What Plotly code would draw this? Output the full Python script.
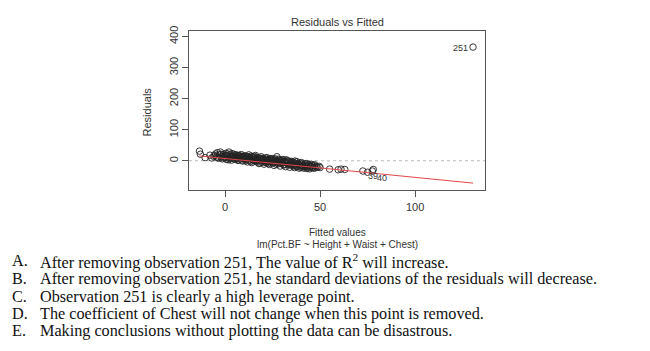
import plotly.graph_objects as go

W, H = 650, 351

# Fitted values and residuals
fitted = [-13.5, -13, -10.5, -8, -6, -5, -4.5, -4, -3.5, -3, -2.5, -2, -1.5, -1, -0.5, 0, 0.3, 0.8, 1, 1.5,
          2, 2.2, 2.6, 3, 3.4, 3.8, 4, 4.5, 5, 5.3, 5.8, 6, 6.5, 7, 7.2, 7.8, 8, 8.5, 9, 9.3,
          9.8, 10, 10.5, 11, 11.3, 11.8, 12, 12.5, 13, 13.3, 13.8, 14, 14.5, 15, 15.3, 15.8, 16, 16.5, 17, 17.3,
          17.8, 18, 18.5, 19, 19.3, 19.8, 20, 20.5, 21, 21.3, 21.8, 22, 22.5, 23, 23.3, 23.8, 24, 24.5, 25, 25.3,
          25.8, 26, 26.5, 27, 27.3, 27.8, 28, 28.5, 29, 29.3, 29.8, 30, 30.5, 31, 31.3, 31.8, 32, 32.5, 33, 33.3,
          33.8, 34, 34.5, 35, 35.3, 35.8, 36, 36.5, 37, 37.3, 37.8, 38, 38.5, 39, 39.3, 39.8, 40, 40.5, 41, 41.5,
          42, 42.5, 43, 43.5, 44, 44.5, 45, 45.5, 46, 47, 47.5, 48, 49.5, 50, 55, 59.5, 61, 63, 72.5, 75,
          77.5, 78,
          -7, -5.5, -3.8, -2.2, -0.8, 0.6, 1.2, 1.8, 2.8, 3.6, 4.2, 4.8, 5.5, 6.2, 6.8, 7.5, 8.2, 8.8, 9.5, 10.2,
          10.8, 11.5, 12.2, 12.8, 13.5, 14.2, 14.8, 15.5, 16.2, 16.8, 17.5, 18.2, 18.8, 19.5, 20.2, 20.8, 21.5, 22.2, 22.8, 23.5,
          24.2, 24.8, 25.5, 26.2, 26.8, 27.5, 28.2, 28.8, 29.5, 30.2, 30.8, 31.5, 32.2, 32.8, 33.5, 34.2, 34.8, 35.5, 36.2, 36.8,
          37.5, 38.2, 38.8, 39.5, 40.2, 40.8, 41.2, 42.2, 42.8, 43.2, 44.2, 44.8, 45.8, 46.5, 47.2, 48.5,
          130.5]
residuals = [31, 21, 10, 18, 14, 22, 12, 26, 8, 18, 28, 13, 6, 20, 15, 10, 24, 4, 16, 12,
             28, 7, 19, 13, 2, 16, 9, 21, 12, 5, 15, 8, 18, 3, 11, 14, 6, 20, 10, -1,
             13, 7, 16, 4, 9, -4, 12, 19, 2, 8, 15, -6, 5, 11, 0, 7, 17, -3, 4, 10,
             -9, 6, 1, 13, -5, 3, 8, -11, 0, 5, -7, 10, -2, 3, -12, 7, -4, 1, -8, 4,
             -15, -1, 6, -6, 13, -3, -10, 2, -17, -5, 0, -8, 4, -12, -2, -19, -6, 1, -10, -4,
             -14, -21, -7, -2, -12, -17, -5, -22, -9, -14, -3, -19, -11, -24, -7, -15, -21, -10, -17, -24,
             -13, -19, -9, -22, -15, -26, -18, -12, -21, -16, -23, -19, -18, -22, -27, -29, -27, -28, -33, -37,
             -33, -28,
             9, 17, 11, 21, 9, 17, 22, 3, 10, 23, 14, 6, 19, 11, 1, 17, 13, 2, 15, 11,
             0, 14, 5, 10, -2, 12, 3, 14, 0, 9, 2, -7, 8, 0, 5, -4, 9, 1, -9, 4,
             -2, 7, -5, 2, -11, -1, 5, -7, 1, -3, -14, -5, 3, -8, -1, -12, -4, -9, -14, -1,
             -18, -8, -12, -20, -6, -14, -20, -10, -16, -25, -12, -20, -16, -24, -13, -21,
             366]
# Observation ids of labelled points (index into the arrays above)
label_ids = ["251", "39", "40"]
label_idx = [len(fitted) - 1, 138, 140]
label_side = [-1, 1, 1]
label_dy = [-1, -5, -7]

# Smoothed (lowess) red line
smooth_x = [-13.5, 0, 20, 40, 60, 78, 130.5]
smooth_y = [15.5, 7.5, -4.5, -16, -28, -39, -72]

x_ticks = [0, 50, 100]
y_ticks = [0, 100, 200, 300, 400]

fig = go.Figure()
fig.add_trace(go.Scatter(x=fitted, y=residuals, mode="markers",
                         marker=dict(symbol="circle-open", size=6.5, color="#222222",
                                     line=dict(width=0.9, color="#222222"))))
fig.add_trace(go.Scatter(x=smooth_x, y=smooth_y, mode="lines",
                         line=dict(color="#e0474a", width=1), hoverinfo="skip"))

fig.add_shape(type="line", xref="x domain", yref="y", x0=0, x1=1, y0=0, y1=0,
              line=dict(color="#bbbbbb", width=1, dash="dot"), layer="below")

sans = "Liberation Sans, Arial, sans-serif"
serif = "Liberation Serif, Times New Roman, serif"

for lab, i, side, dy in zip(label_ids, label_idx, label_side, label_dy):
    fig.add_annotation(x=fitted[i], y=residuals[i], xref="x", yref="y", text=lab,
                       showarrow=False, xanchor="right" if side < 0 else "left",
                       xshift=-3 if side < 0 else 3, yshift=dy,
                       font=dict(family=sans, size=9, color="#333333"))

x0p, x1p, y0p, y1p = 189, 485, 26, 188
fig.update_layout(
    width=W, height=H, margin=dict(l=0, r=0, t=0, b=0),
    paper_bgcolor="white", plot_bgcolor="white", showlegend=False,
    xaxis=dict(domain=[x0p / W, x1p / W], range=[-19.0, 136.8], tickvals=x_ticks,
               ticks="outside", ticklen=6, tickcolor="#555555", showgrid=False, zeroline=False,
               showline=True, mirror=True, linecolor="#555555", linewidth=1,
               tickfont=dict(family=sans, size=11, color="#333333")),
    yaxis=dict(domain=[1 - y1p / H, 1 - y0p / H], range=[-95.2, 419], tickvals=y_ticks,
               ticks="outside", ticklen=6, tickcolor="#555555", showgrid=False, zeroline=False,
               showline=True, mirror=True, linecolor="#555555", linewidth=1, tickangle=-90,
               tickfont=dict(family=sans, size=11, color="#333333")),
)

def ann(text, xpx, ypx, size, family, xanchor="center", angle=0, color="#333333"):
    fig.add_annotation(x=xpx / W, y=1 - ypx / H, xref="paper", yref="paper", text=text,
                       showarrow=False, xanchor=xanchor, yanchor="middle", textangle=angle,
                       font=dict(family=family, size=size, color=color))

ann("Residuals vs Fitted", 337, 17, 11, sans)
ann("Residuals", 147, 109, 11, sans, angle=-90)
ann("Fitted values", 337, 231, 10, sans)
ann("lm(Pct.BF ~ Height + Waist + Chest)", 337, 243, 10, sans)

letters = ["A.", "B.", "C.", "D.", "E."]
lines = [
    "After removing observation 251, The value of R<sup>2</sup> will increase.",
    "After removing observation 251, he standard deviations of the residuals will decrease.",
    "Observation 251 is clearly a high leverage point.",
    "The coefficient of Chest will not change when this point is removed.",
    "Making conclusions without plotting the data can be disastrous.",
]
line_y = [260, 278, 296, 313, 331]
for L, t, yy in zip(letters, lines, line_y):
    ann(L, 10, yy, 16.2, serif, xanchor="left", color="#111111")
    ann(t, 38, yy, 16.2, serif, xanchor="left", color="#111111")

fig.write_html("out.html")
